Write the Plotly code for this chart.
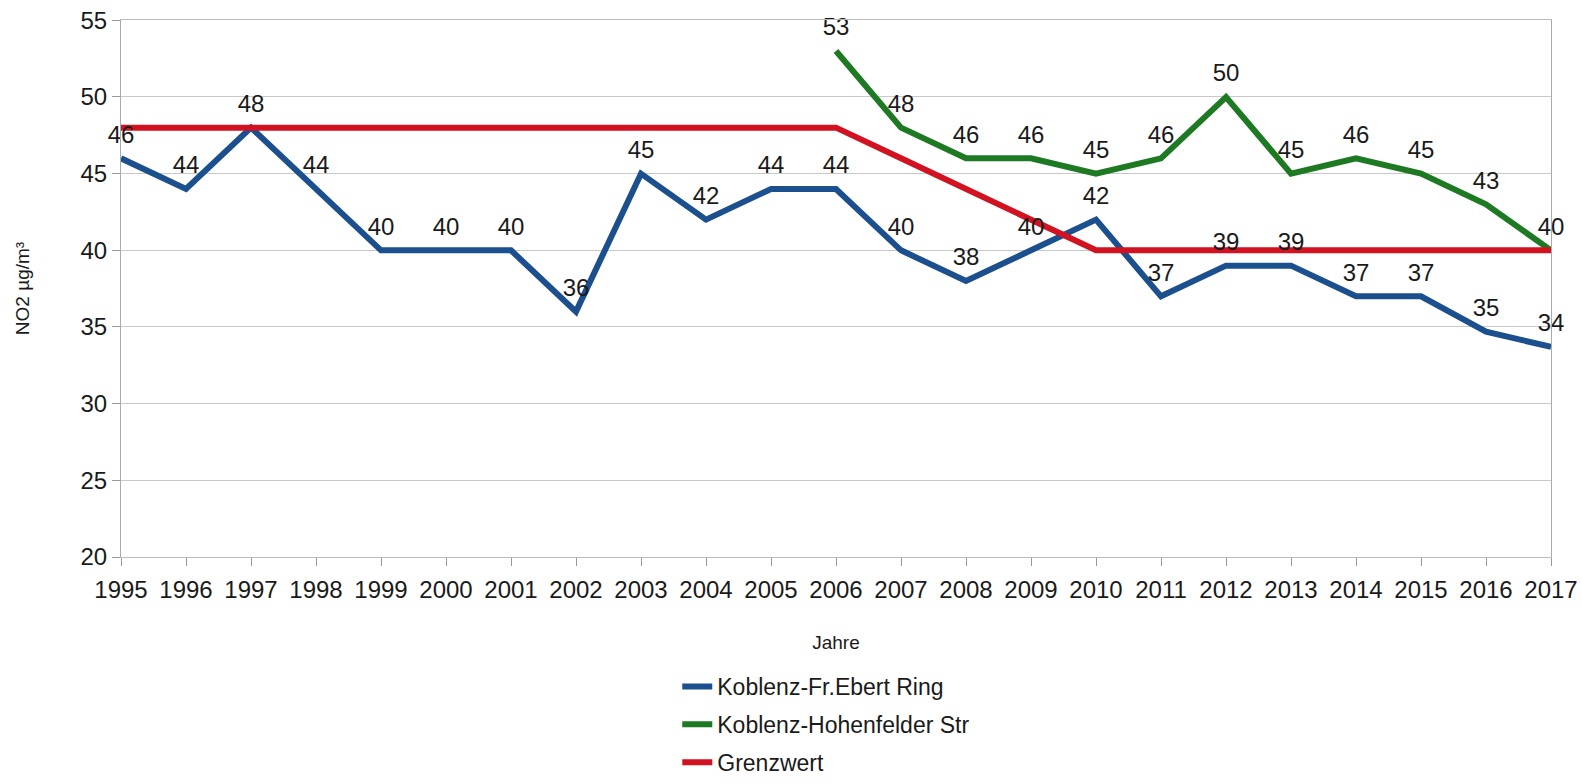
import plotly.graph_objects as go

years = list(range(1995, 2018))
ebert = [46, 44, 48, 44, 40, 40, 40, 36, 45, 42, 44, 44, 40, 38, 40, 42, 37, 39, 39, 37, 37, 34.7, 33.7]
hohen_years = list(range(2006, 2018))
hohen = [53, 48, 46, 46, 45, 46, 50, 45, 46, 45, 43, 40]
grenz = [48] * 12 + [46, 44, 42, 40, 40, 40, 40, 40, 40, 40, 40]
y_ticks = [20, 25, 30, 35, 40, 45, 50, 55]

FONT = "Liberation Sans, Arial, sans-serif"
BLUE = "#1b4f8e"
GREEN = "#1d7a22"
RED = "#d21220"

fig = go.Figure()
fig.add_trace(go.Scatter(
    x=years, y=ebert, mode="lines", name="Koblenz-Fr.Ebert Ring", legendgroup="a",
    line=dict(color=BLUE, width=6), cliponaxis=False))
fig.add_trace(go.Scatter(
    x=hohen_years, y=hohen, mode="lines", name="Koblenz-Hohenfelder Str", legendgroup="b",
    line=dict(color=GREEN, width=6), cliponaxis=False))
fig.add_trace(go.Scatter(
    x=years, y=grenz, mode="lines", name="Grenzwert", legendgroup="c",
    line=dict(color=RED, width=6), cliponaxis=False))

# value labels
for xs, ys in ((years, ebert), (hohen_years, hohen)):
    fig.add_trace(go.Scatter(
        x=xs, y=ys, mode="markers+text", showlegend=False, hoverinfo="skip",
        marker=dict(size=14, opacity=0),
        text=[str(round(v)) for v in ys], textposition="top center",
        textfont=dict(size=24, color="#1a1a1a", family=FONT), cliponaxis=False))

fig.update_layout(
    width=1582, height=784,
    margin=dict(l=121, r=31, t=20, b=227),
    paper_bgcolor="white", plot_bgcolor="white",
    font=dict(family=FONT, color="#1a1a1a"),
    showlegend=True,
    legend=dict(orientation="v", x=0.389, xanchor="left",
                yref="container", y=0.0, yanchor="bottom",
                font=dict(size=23, family=FONT), tracegroupgap=5,
                traceorder="grouped", borderwidth=0),
    xaxis=dict(range=[1995, 2017], tickmode="array", tickvals=years,
               ticktext=[str(y) for y in years], automargin=False,
               ticklabeloverflow="allow", ticklabelstandoff=3,
               tickfont=dict(size=24), ticks="outside", ticklen=8, tickcolor="#999",
               showgrid=False, showline=True, linecolor="#bbb", mirror=True,
               zeroline=False,
               title=dict(text="Jahre", font=dict(size=19), standoff=33)),
    yaxis=dict(range=[20, 55.02], tickmode="array", tickvals=y_ticks, automargin=False,
               ticklabeloverflow="allow",
               tickfont=dict(size=24), ticks="outside", ticklen=8, tickcolor="#999",
               showgrid=True, gridcolor="#c8c8c8", gridwidth=1,
               showline=True, linecolor="#aaa", mirror=True, zeroline=False,
               title=dict(text="NO2 µg/m³", font=dict(size=19), standoff=45)),
)

fig.write_html("out.html", config={"displayModeBar": False},
               post_script="document.body.style.margin='0';")
